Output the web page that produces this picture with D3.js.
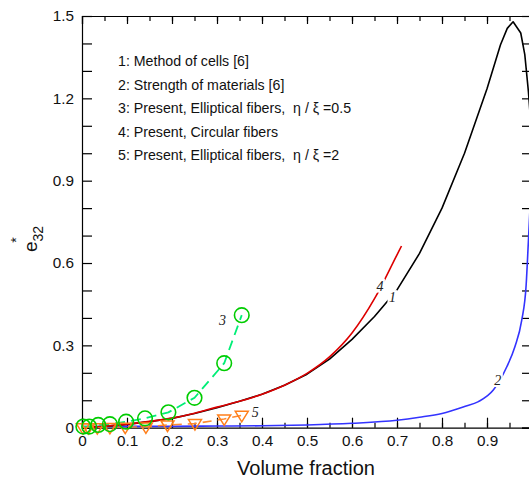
<!DOCTYPE html>
<html><head><meta charset="utf-8">
<script src="https://cdn.jsdelivr.net/npm/d3@7"></script>
<style>body{margin:0;background:#fff}svg{display:block}</style>
</head><body>
<svg id="c" width="529" height="482"></svg>
<script>
// ---- data ----
const cellsX = [0,0.05,0.1,0.15,0.2,0.25,0.3,0.35,0.4,0.45,0.5,0.55,0.6,0.65,0.7,0.75,0.8,0.85,0.9,0.93,0.945,0.958,0.975,0.984,0.992,1.0];
const cellsY = [0,0.005,0.012,0.022,0.034,0.052,0.073,0.096,0.122,0.155,0.195,0.25,0.322,0.405,0.502,0.635,0.80,1.0,1.235,1.395,1.455,1.479,1.438,1.359,1.225,1.05];
const strengthX = [0,0.1,0.2,0.3,0.4,0.5,0.6,0.7,0.75,0.8,0.85,0.881,0.914,0.944,0.962,0.977,0.987,0.992,1.0];
const strengthY = [0.004,0.005,0.005,0.006,0.007,0.01,0.016,0.027,0.038,0.052,0.077,0.095,0.137,0.222,0.295,0.39,0.52,0.68,0.95];
const circX = [0,0.05,0.1,0.15,0.2,0.25,0.3,0.35,0.4,0.45,0.5,0.55,0.6,0.65,0.7,0.71];
const circY = [0,0.005,0.013,0.023,0.035,0.053,0.075,0.096,0.122,0.155,0.198,0.258,0.345,0.470,0.630,0.662];
const ell05X = [0.003,0.016,0.036,0.062,0.098,0.140,0.192,0.250,0.316,0.355];
const ell05Y = [0.004,0.004,0.010,0.013,0.022,0.034,0.056,0.109,0.235,0.410];
const ell2X = [0.002,0.014,0.034,0.062,0.096,0.142,0.19,0.251,0.316,0.355];
const ell2Y = [0,0,0,0.001,0.002,0.003,0.01,0.015,0.032,0.045];
const legendLines = ["1: Method of cells [6]","2: Strength of materials [6]","3: Present, Elliptical fibers,  \u03B7 / \u03BE =0.5","4: Present, Circular fibers","5: Present, Elliptical fibers,  \u03B7 / \u03BE =2"];
const yTickLabels = [0,0.3,0.6,0.9,1.2,1.5];
const xTickLabels = [0,0.1,0.2,0.3,0.4,0.5,0.6,0.7,0.8,0.9];

const svg = d3.select("#c");
const L=82, R=532, T=16, B=427.7;
const x = d3.scaleLinear().domain([0,1]).range([L,R]);
const y = d3.scaleLinear().domain([0,1.5]).range([B,T]);
const font = "'Liberation Sans', Arial, sans-serif";

svg.append("clipPath").attr("id","clip").append("rect").attr("x",L).attr("y",T).attr("width",R-L).attr("height",B-T);

// axes
const yTicks = d3.range(0,16).map(i=>i/10);
const xMajor = d3.range(0,11).map(i=>i/10);
const xMinor = d3.range(0,20).map(i=>i/20+0.05).filter(v=>v<1);
const fmt = d=> d===0 ? "0" : d3.format(".1f")(d);
const isLab = (arr,d)=>arr.some(v=>Math.abs(v-d)<1e-6);

function styleAxis(g){
  g.select(".domain").attr("stroke","#000").attr("stroke-width",1.2);
  g.selectAll(".tick line").attr("stroke","#000").attr("stroke-width",1.2);
  g.selectAll("text").attr("font-family",font).attr("font-size",15.3).attr("fill","#111");
}
const gl = svg.append("g").attr("transform",`translate(${L},0)`)
  .call(d3.axisLeft(y).tickValues(yTicks).tickSize(-10).tickPadding(8).tickFormat(d=>isLab(yTickLabels,d)?fmt(d):""));
styleAxis(gl);
const gr = svg.append("g").attr("transform",`translate(${R},0)`)
  .call(d3.axisRight(y).tickValues(yTicks).tickSize(-10).tickFormat(""));
styleAxis(gr);
const gb = svg.append("g").attr("transform",`translate(0,${B})`)
  .call(d3.axisBottom(x).tickValues(xMajor).tickSize(-10).tickPadding(7).tickFormat(d=>isLab(xTickLabels,d)?fmt(d):""));
styleAxis(gb);
svg.append("g").attr("transform",`translate(0,${B})`)
  .call(d3.axisBottom(x).tickValues(xMinor).tickSize(-5).tickFormat("")).call(g=>{g.select(".domain").remove();g.selectAll("line").attr("stroke","#000").attr("stroke-width",1.2);});
const gt = svg.append("g").attr("transform",`translate(0,${T})`)
  .call(d3.axisTop(x).tickValues(xMajor).tickSize(-8).tickFormat(""));
styleAxis(gt);
svg.append("g").attr("transform",`translate(0,${T})`)
  .call(d3.axisTop(x).tickValues(xMinor).tickSize(-5).tickFormat("")).call(g=>{g.select(".domain").remove();g.selectAll("line").attr("stroke","#000").attr("stroke-width",1.2);});

// lines
const plot = svg.append("g").attr("clip-path","url(#clip)");
const zip=(a,b)=>a.map((v,i)=>[v,b[i]]);
const line = d3.line().x(d=>x(d[0])).y(d=>y(d[1])).curve(d3.curveMonotoneX);
const lineLin = d3.line().x(d=>x(d[0])).y(d=>y(d[1]));
plot.append("path").attr("d",line(zip(strengthX,strengthY))).attr("fill","none").attr("stroke","#3333ff").attr("stroke-width",1.6);
plot.append("path").attr("d",lineLin(zip(cellsX,cellsY))).attr("fill","none").attr("stroke","#000").attr("stroke-width",1.6).attr("stroke-linejoin","round");
plot.append("path").attr("d",line(zip(circX,circY))).attr("fill","none").attr("stroke","#dd0000").attr("stroke-width",1.6);
plot.append("path").attr("d",lineLin(zip(ell2X,ell2Y))).attr("fill","none").attr("stroke","#ff8a30").attr("stroke-width",1.6).attr("stroke-dasharray","9,6");
plot.append("path").attr("d",lineLin(zip(ell05X,ell05Y))).attr("fill","none").attr("stroke","#00ee77").attr("stroke-width",1.8).attr("stroke-dasharray","10,6");
// markers
svg.append("g").selectAll("path").data(zip(ell2X,ell2Y)).join("path")
  .attr("transform",d=>`translate(${x(d[0])},${y(d[1])})`)
  .attr("d","M-6.5,-4L6.5,-4L0,6.5Z").attr("fill","none").attr("stroke","#ff7f1a").attr("stroke-width",1.5);
svg.append("g").selectAll("circle").data(zip(ell05X,ell05Y)).join("circle")
  .attr("cx",d=>x(d[0])).attr("cy",d=>y(d[1])).attr("r",7.3)
  .attr("fill","none").attr("stroke","#00cc00").attr("stroke-width",1.6);

// curve labels
const curveLabels = [["3",0.312,0.39],["5",0.385,0.054],["4",0.662,0.514],["1",0.69,0.472],["2",0.924,0.17]];
const lg = svg.append("g");
curveLabels.forEach(([t,vx,vy])=>{
  lg.append("rect").attr("x",x(vx)-5).attr("y",y(vy)-8).attr("width",10).attr("height",14).attr("fill","#fff");
  lg.append("text").attr("x",x(vx)).attr("y",y(vy)+4).attr("text-anchor","middle")
    .attr("font-family","'Liberation Serif', 'Times New Roman', serif").attr("font-style","italic").attr("font-size",14).attr("fill","#222").text(t);
});

// legend
svg.append("g").selectAll("text").data(legendLines).join("text")
  .attr("x",118).attr("y",(d,i)=>66+i*23.5).attr("font-family",font).attr("font-size",14.2).attr("fill","#111").attr("xml:space","preserve").text(d=>d);

// axis titles
svg.append("text").attr("x",306).attr("y",475).attr("text-anchor","middle").attr("font-family",font).attr("font-size",20).attr("fill","#111").text("Volume fraction");
const yt = svg.append("text").attr("transform","translate(37,252) rotate(-90)").attr("font-family",font).attr("font-size",19).attr("fill","#111");
yt.append("tspan").text("e");
yt.append("tspan").attr("font-size",14).attr("dy",6).text("32");
yt.append("tspan").attr("font-size",14).attr("dx",-17).attr("dy",-22).text("*");
</script>
</body></html>
